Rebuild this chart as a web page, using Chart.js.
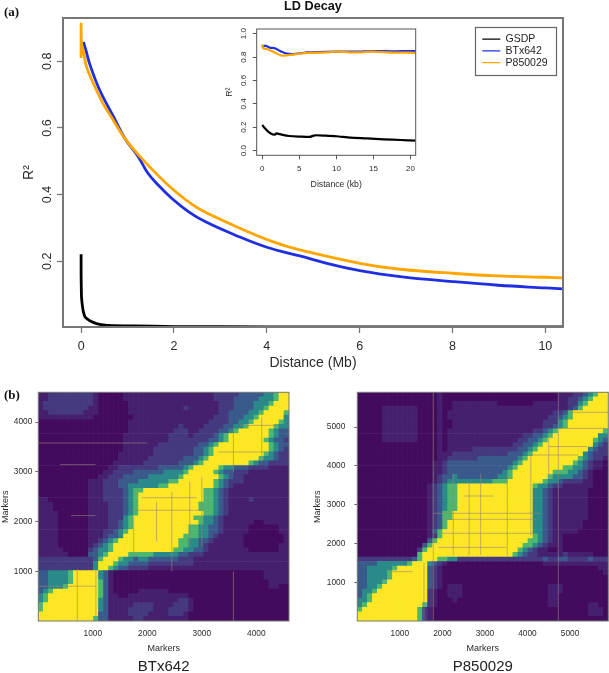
<!DOCTYPE html>
<html>
<head>
<meta charset="utf-8">
<title>LD Decay</title>
<script src="https://cdn.jsdelivr.net/npm/chart.js@4"></script>
<style>
html, body { margin: 0; background: #fff; }
#page { position: relative; width: 609px; height: 673px; overflow: hidden; font-family: "Liberation Sans", sans-serif; }
#page canvas { position: absolute; }
.panel { position: absolute; left: 4px; font: bold 13px "Liberation Serif", serif; color: #111; }
</style>
</head>
<body>
<div id="page">
    <canvas id="main-chart" width="609" height="375" style="left:0;top:0"></canvas>
    <canvas id="inset-chart" width="210" height="175" style="left:215px;top:20px"></canvas>
    <canvas id="btx-chart" width="305" height="291" style="left:0;top:385px"></canvas>
    <canvas id="p85-chart" width="304" height="291" style="left:305px;top:385px"></canvas>
    <div class="panel" style="top:4px">(a)</div>
    <div class="panel" style="top:387px">(b)</div>
</div>
<script>
// Main panel, distance in Mb
const gsdpMb = [0, 0, 0.005, 0.01, 0.03, 0.05, 0.08, 0.13, 0.22, 0.33, 0.47, 0.7, 1.12, 2, 4, 6, 8, 10.4];
const gsdpR2 = [0.221, 0.16, 0.114, 0.09, 0.064, 0.048, 0.034, 0.027, 0.019, 0.013, 0.009, 0.007, 0.006, 0.004, 0.003, 0.003, 0.003, 0.003];
const btxMb = [0.05, 0.1, 0.19, 0.4, 0.69, 0.94, 1.23, 1.44, 1.66, 1.95, 2.31, 2.67, 3.31, 4, 4.71, 5.43, 6, 6.87, 8, 8.98, 10, 10.4];
const btxR2 = [0.858, 0.835, 0.79, 0.714, 0.636, 0.569, 0.514, 0.464, 0.429, 0.389, 0.349, 0.319, 0.279, 0.242, 0.216, 0.189, 0.172, 0.154, 0.139, 0.128, 0.12, 0.117];
const p85Mb = [0, 0, 0.01, 0.05, 0.116, 0.26, 0.47, 0.655, 0.94, 1.37, 1.95, 2.52, 3.31, 4.14, 4.71, 6, 6.87, 8, 8.98, 10, 10.4];
const p85R2 = [0.81, 0.912, 0.85, 0.83, 0.784, 0.735, 0.674, 0.632, 0.569, 0.499, 0.419, 0.359, 0.306, 0.258, 0.234, 0.194, 0.176, 0.164, 0.156, 0.152, 0.15];
const mainXTicks = [0, 2, 4, 6, 8, 10];
const mainYTicks = [0.2, 0.4, 0.6, 0.8];

// Inset, distance in kb
const insetBtxKb = [0, 0.36, 1.03, 1.7, 2.4, 3.3, 4.2, 5.1, 6, 7.3, 10, 12.7, 15, 17.6, 19.9, 20.7];
const insetBtxR2 = [0.88, 0.897, 0.88, 0.875, 0.852, 0.83, 0.826, 0.832, 0.84, 0.843, 0.846, 0.846, 0.852, 0.849, 0.852, 0.851];
const insetP85Kb = [0, 0.1, 0.6, 1.26, 1.9, 2.6, 3.7, 5.1, 6.4, 8.7, 10, 12.7, 15, 17.6, 19.9, 20.7];
const insetP85R2 = [0.909, 0.875, 0.869, 0.852, 0.832, 0.812, 0.818, 0.829, 0.835, 0.84, 0.846, 0.84, 0.846, 0.838, 0.838, 0.836];
const insetGsdpKb = [0, 0.36, 0.8, 1.26, 1.7, 1.9, 2.6, 3.7, 5.1, 6.4, 7.1, 8.5, 10, 11.9, 14.1, 16.4, 18.7, 20.7];
const insetGsdpR2 = [0.219, 0.191, 0.162, 0.142, 0.137, 0.148, 0.137, 0.125, 0.12, 0.117, 0.131, 0.128, 0.123, 0.111, 0.105, 0.097, 0.091, 0.085];
const insetXTicks = [0, 5, 10, 15, 20];
const insetYTicks = [0, 0.2, 0.4, 0.6, 0.8, 1];

// LD matrices, top row first, one digit per cell (0 = low, 6 = high)
const btxMarkers = 4600;
const btxTicks = [1000, 2000, 3000, 4000];
const btxRows = [
    '1122222222 2100000111 1111111111 1111122222 3333344566',
    '1122222222 2100000111 1111111111 1111122223 3333444566',
    '1222222222 2100000011 1111111111 1111112223 3334445666',
    '1222222222 1100000011 1111111112 1111112223 3334456666',
    '1122222221 1100000011 1111111111 1111112233 3344566665',
    '1111111111 1000000001 1111111111 1111122233 3445666664',
    '0000000000 0000000011 1111111111 1111222233 4456666654',
    '0000000000 0000000011 1111111121 1112222334 4566666544',
    '0000000000 0000000011 1111111222 1122223345 6666665433',
    '0000000000 0000000111 1111112222 1222234566 6666665433',
    '0000000000 0000000111 1111112222 2222334566 6666654332',
    '0000000000 0000000111 1111222222 2233456666 6666665433',
    '0000000000 0000000111 1112222222 2334566666 6666665432',
    '0000000000 0000001111 1112222222 2334566666 6666654322',
    '0000000000 0000001111 1122222223 3345666666 6666544322',
    '0000000000 0000011111 1222222233 3456666666 6654332222',
    '0000000000 0000112222 2222333334 5666665443 3322221111',
    '0000000000 0001122223 3333344445 6666654332 2211111111',
    '0000000000 0011222333 3344444456 6666665432 2111111111',
    '0000000000 1112223333 4444445566 6666654322 2111111111',
    '0000000000 1112223344 4444556666 6666654321 1111111111',
    '0000000000 1112222345 5666666666 6665543211 1111111111',
    '0000000000 1112222345 6666666666 6665543211 1111111111',
    '1100000000 1112222345 6666666666 6665543211 1121111111',
    '1110000000 1111222345 6666666666 6655543211 1111111111',
    '1110000000 1111222345 6666666666 6655543211 1111111111',
    '1111000000 1111222345 6666666666 6665543211 1111111111',
    '1111000000 1111222456 6666666666 6554432111 1111111111',
    '1111000000 1111223456 6666666666 6654432111 1110011111',
    '1111000000 1111223456 6666666666 5544332111 1100000011',
    '1111000000 1112234566 6666666666 5544332111 1100000011',
    '1111000000 1112334666 6666666665 5544321111 1000000001',
    '1111000000 1123456666 6666666655 4433211111 1000000001',
    '1111000000 1234566666 6666666655 4432111111 1000000011',
    '1111100000 2344566666 6666666554 4332111111 1100000011',
    '1111110000 3345666655 5554444433 2221111111 1111111111',
    '2222222222 2356665443 4433333322 2111111111 1111111111',
    '2222222222 2466654433 3322222222 2111111111 1111111111',
    '2222222222 2466543322 2211111111 1111111111 1111111111',
    '3344445666 6643100000 0000000000 0000000000 0000011111',
    '3344445666 6643100000 0000000000 0000000000 0000011111',
    '3344445666 6653100000 0000000000 0000000000 0000001111',
    '3344456666 6653100000 0000000000 0000000000 0000001100',
    '3456666666 6653100000 1111110000 0000000000 0000000000',
    '4566666666 6653110011 1111111111 0000000000 0000000000',
    '4566666666 6643111111 1111111122 1000000000 0000000000',
    '5666666666 6643111112 2221111222 1000000000 0000000000',
    '5666666666 6643111122 2221112222 1000000000 0000000000',
    '6666666666 6633111122 2211112221 0000000000 0000000000',
    '6666666666 6533111112 2111111111 0000000000 0000000000'
];
const btxVLines = [[716, 0, 1050], [1057, 0, 1050], [3580, 0, 1000], [1750, 1300, 2100], [2170, 1600, 2400], [2450, 1000, 2600], [2780, 1500, 2800], [3000, 1500, 2900], [3580, 3000, 3900], [4100, 3200, 4100]];
const btxHLines = [[3580, 0, 2000], [3145, 400, 1050], [2120, 600, 1050], [2228, 1700, 3000], [2480, 1900, 2900], [700, 0, 1050], [3935, 3700, 4400], [3400, 3300, 4200]];

const p85Markers = 5900;
const p85Ticks = [1000, 2000, 3000, 4000, 5000];
const p85Rows = [
    '0000000000 0000001000 0000000000 0000000000 1112234566',
    '0000000000 0000001000 0000000000 0000000000 1122345666',
    '0000000000 0000001001 1111111100 0000011111 1122456666',
    '0000011111 1100001001 1111111111 1111111111 1123566666',
    '0000011111 1100001011 1111111111 1111111112 2356666666',
    '0000011111 1100001011 1111111111 1111111122 3456666666',
    '0000011111 1100001001 1111111111 1111111222 4566666666',
    '0000011111 1100001001 1111111111 1111111223 4566666666',
    '0000011111 1100001011 1111111111 1111122345 6666666665',
    '0000011111 1100001011 1111111111 1112233456 6666666644',
    '0000011111 1100001011 1111111111 1122334566 6666666543',
    '0000000000 0000001011 1111111111 1223345666 6666666432',
    '0000000000 0000001011 1112222222 2233456666 6666664322',
    '0000000000 0000001112 2222222222 3334566666 6666643222',
    '0000000000 0000001122 2222333333 3345666666 6666543221',
    '0000000000 0000011233 3333333333 3456666666 6665432110',
    '0000000000 0000011233 3333333333 4566666666 6554432110',
    '0000000000 0000011233 3333333334 5666666665 5544321000',
    '0000000000 0000012334 3333333344 5666666654 4443321000',
    '0000000000 0000012344 4444444555 6666666544 3222211000',
    '0000000000 0000123455 6666666666 6666654432 2111111000',
    '0000000000 0000123455 6666666666 6666644321 1111110000',
    '0000000000 0000123455 6666666666 6666644321 1111110000',
    '0000000000 0000123455 6666666666 6666644321 1111110000',
    '0000000000 0000123455 6666666666 6666644321 1111110000',
    '0000000000 0000123455 6666666666 6666644321 1111110000',
    '0000000000 0000123556 6666666666 6666644321 1111110000',
    '0000000000 0000123556 6666666666 6666644321 1111110000',
    '0000000000 0000123566 6666666666 6666644321 1111100000',
    '0000000000 0000123566 6666666666 6666644321 1111100000',
    '0000000000 0000135666 6666666666 6666644321 1111000000',
    '0000000000 0000125666 6666666666 6666654321 1000000000',
    '0000000000 0000356666 6666666666 6666554321 1000000000',
    '0000000000 0003566666 6666666666 6665543211 1000000000',
    '0000000000 0025666666 6666666666 6654321100 1000000000',
    '0000000000 0056666666 6666666666 6543221111 1211111000',
    '2222222222 2356665544 2222222222 2222222322 3322223222',
    '3333444444 5666432100 0000000000 0000000111 1111111111',
    '3344444566 6666321000 0000000000 0000000000 0000000011',
    '3344445666 6666321000 0000000000 0000000000 0000000001',
    '3344445666 6666321000 0000000000 0000000000 0000000000',
    '3344456666 6666321000 0000000000 0000000000 0000000000',
    '3344566666 6666321011 1000000000 0000000011 1000000000',
    '3445666666 6666210011 1000000000 0000000011 1000000000',
    '3456666666 6666210011 1000000000 0000000011 0000000000',
    '4456666666 6666210001 0000000000 0000000011 0000000000',
    '4566666666 6665210000 0000000000 0000000011 0000001100',
    '5666666666 6652100000 0000000000 0000000000 0000001110',
    '6666666666 6652100000 0000000000 0000000000 0000001110',
    '6666666666 6652100000 0000000000 0000000000 0000000000'
];
const p85VLines = [[1786, 0, 5900], [4725, 0, 5900], [1567, 0, 1500], [2256, 1700, 3800], [2630, 1700, 3600], [2900, 1700, 3800], [3525, 1700, 3800], [4080, 2200, 4300], [4500, 3700, 4800]];
const p85HLines = [[2778, 1800, 4300], [2623, 2000, 4200], [2262, 2000, 4200], [1900, 1900, 3500], [3225, 2500, 3200], [5384, 5000, 5900], [4970, 4700, 5900], [4500, 4500, 5400], [4283, 4100, 5200], [1272, 800, 1300]];

const heatColors = ['#430b5e', '#46206f', '#45397f', '#3a5a8c', '#2a8a8a', '#4db66f', '#fde725'];
const streakColor = 'rgba(150,135,120,0.6)';
const axisGray = '#777777';
const textColor = '#2b2b2b';

function toPoints(xs, ys) {
    return xs.map((x, i) => ({ x: x, y: ys[i] }));
}

// Fixed tick positions, like R's axis()
function fixedTicks(values) {
    return scale => { scale.ticks = values.map(v => ({ value: v })); };
}

// Axis box of a fixed size, so the plot lands where it should
function fixedBox(size) {
    return scale => {
        if (scale.isHorizontal()) {
            scale.height = size;
        } else {
            scale.width = size;
        }
        scale.paddingTop = scale.paddingBottom = scale.paddingLeft = scale.paddingRight = 0;
    };
}

function framePlugin(color, width) {
    return {
        id: 'frame',
        afterDatasetsDraw(chart) {
            const a = chart.chartArea;
            const ctx = chart.ctx;
            ctx.save();
            ctx.strokeStyle = color;
            ctx.lineWidth = width;
            ctx.strokeRect(a.left, a.top, a.right - a.left, a.bottom - a.top);
            ctx.restore();
        }
    };
}

// The legend sits in the top right of the plot, with a box round it
const legendBox = {
    id: 'legendBox',
    afterLayout(chart) {
        const legend = chart.legend;
        legend.left = 481;
        legend.right = 557;
        legend.top = 32.5;
        legend.bottom = 76;
    },
    afterDraw(chart) {
        const ctx = chart.ctx;
        ctx.save();
        ctx.strokeStyle = '#666666';
        ctx.lineWidth = 1.2;
        ctx.strokeRect(475.5, 27.5, 81, 48);
        ctx.restore();
    }
};

new Chart(document.getElementById('main-chart'), {
    type: 'scatter',
    data: {
        datasets: [
            { label: 'GSDP', data: toPoints(gsdpMb, gsdpR2), borderColor: '#000000', backgroundColor: '#000000', order: 3 },
            { label: 'BTx642', data: toPoints(btxMb, btxR2), borderColor: '#1f2fe0', backgroundColor: '#1f2fe0', tension: 0.4, order: 2 },
            { label: 'P850029', data: toPoints(p85Mb, p85R2), borderColor: '#ffa500', backgroundColor: '#ffa500', tension: 0.3, order: 1 }
        ]
    },
    options: {
        responsive: false,
        animation: false,
        showLine: true,
        layout: { padding: { right: 46 } },
        elements: { point: { radius: 0 }, line: { borderWidth: 2.8, tension: 0.2 } },
        plugins: {
            tooltip: { enabled: false },
            title: {
                display: true,
                text: 'LD Decay',
                fullSize: false,
                color: '#111',
                font: { family: 'Liberation Sans', size: 12.7, weight: 'bold', lineHeight: 1 },
                padding: { top: 0, bottom: 5.3 }
            },
            legend: {
                position: 'chartArea',
                align: 'start',
                labels: {
                    usePointStyle: true,
                    pointStyle: 'line',
                    pointStyleWidth: 18,
                    padding: 1.3,
                    color: '#222',
                    font: { family: 'Liberation Sans', size: 10.5, lineHeight: 1 },
                    sort: (a, b) => a.datasetIndex - b.datasetIndex,
                    generateLabels: chart => Chart.defaults.plugins.legend.labels.generateLabels(chart).map(item => ({ ...item, lineWidth: 1.3 }))
                }
            }
        },
        scales: {
            x: {
                type: 'linear',
                min: -0.39,
                max: 10.38,
                afterBuildTicks: fixedTicks(mainXTicks),
                afterFit: fixedBox(48),
                border: { display: false },
                grid: { drawOnChartArea: false, tickLength: 6, tickColor: axisGray, tickWidth: 1.3 },
                ticks: { color: textColor, autoSkip: false, maxRotation: 0, padding: 5.6, font: { family: 'Liberation Sans', size: 12.5 } },
                title: { display: true, text: 'Distance (Mb)', color: textColor, font: { family: 'Liberation Sans', size: 14 }, padding: { top: 0, bottom: 3.6 } }
            },
            y: {
                min: 0.0027,
                max: 0.93,
                afterBuildTicks: fixedTicks(mainYTicks),
                afterFit: fixedBox(63),
                border: { display: false },
                grid: { drawOnChartArea: false, tickLength: 6, tickColor: axisGray, tickWidth: 1.3 },
                ticks: {
                    color: textColor,
                    autoSkip: false,
                    minRotation: 90,
                    maxRotation: 90,
                    crossAlign: 'center',
                    padding: 0.6,
                    font: { family: 'Liberation Sans', size: 12.5 },
                    callback: v => v.toFixed(1)
                },
                title: { display: true, text: 'R²', color: textColor, font: { family: 'Liberation Sans', size: 14 }, padding: { top: 21, bottom: 0 } }
            }
        }
    },
    plugins: [framePlugin(axisGray, 2), legendBox]
});

new Chart(document.getElementById('inset-chart'), {
    type: 'scatter',
    data: {
        datasets: [
            { label: 'GSDP', data: toPoints(insetGsdpKb, insetGsdpR2), borderColor: '#000000', order: 3 },
            { label: 'BTx642', data: toPoints(insetBtxKb, insetBtxR2), borderColor: '#1f2fe0', order: 2 },
            { label: 'P850029', data: toPoints(insetP85Kb, insetP85R2), borderColor: '#ffa500', order: 1 }
        ]
    },
    options: {
        responsive: false,
        animation: false,
        showLine: true,
        layout: { padding: { top: 9, right: 9.3 } },
        elements: { point: { radius: 0 }, line: { borderWidth: 2.2, tension: 0.2 } },
        plugins: { legend: { display: false }, tooltip: { enabled: false } },
        scales: {
            x: {
                type: 'linear',
                min: -0.75,
                max: 20.7,
                afterBuildTicks: fixedTicks(insetXTicks),
                afterFit: fixedBox(39.7),
                border: { display: false },
                grid: { drawOnChartArea: false, tickLength: 4, tickColor: '#555' },
                ticks: { color: textColor, autoSkip: false, maxRotation: 0, padding: 5, font: { family: 'Liberation Sans', size: 8 } },
                title: { display: true, text: 'Distance (kb)', color: textColor, font: { family: 'Liberation Sans', size: 8.7 }, padding: { top: 0, bottom: 5 } }
            },
            y: {
                min: -0.04,
                max: 1.04,
                afterBuildTicks: fixedTicks(insetYTicks),
                afterFit: fixedBox(41.7),
                border: { display: false },
                grid: { drawOnChartArea: false, tickLength: 4, tickColor: '#555' },
                ticks: {
                    color: textColor,
                    autoSkip: false,
                    minRotation: 90,
                    maxRotation: 90,
                    crossAlign: 'center',
                    padding: 3,
                    font: { family: 'Liberation Sans', size: 8 },
                    callback: v => v.toFixed(1)
                },
                title: { display: true, text: 'R²', color: textColor, font: { family: 'Liberation Sans', size: 8.7 }, padding: { top: 9, bottom: 0 } }
            }
        }
    },
    plugins: [framePlugin('#555555', 1)]
});

// One floating bar per matrix cell, then the grey streaks on top
function buildHeatDatasets(rows, markers, vLines, hLines) {
    const step = markers / rows.length;
    const cells = [];
    const colors = [];
    rows.forEach((row, r) => {
        row.replace(/ /g, '').split('').forEach((level, c) => {
            const top = markers - r * step;
            cells.push({ x: (c + 0.5) * step, y: [top - step, top] });
            colors.push(heatColors[+level]);
        });
    });
    const streaks = [];
    vLines.forEach(l => streaks.push({ type: 'line', data: [{ x: l[0], y: l[1] }, { x: l[0], y: l[2] }], borderColor: streakColor, borderWidth: 1, pointRadius: 0, order: 1 }));
    hLines.forEach(l => streaks.push({ type: 'line', data: [{ x: l[1], y: l[0] }, { x: l[2], y: l[0] }], borderColor: streakColor, borderWidth: 1, pointRadius: 0, order: 1 }));
    return [{ label: 'LD', data: cells, backgroundColor: colors, barPercentage: 1, categoryPercentage: 1, order: 2 }].concat(streaks);
}

function heatChart(canvasId, caption, rows, markers, ticks, vLines, hLines, axisWidth, rightPad, tickPad, titlePad) {
    return new Chart(document.getElementById(canvasId), {
        type: 'bar',
        data: { datasets: buildHeatDatasets(rows, markers, vLines, hLines) },
        options: {
            responsive: false,
            animation: false,
            layout: { padding: { top: 7.3, right: rightPad } },
            plugins: {
                legend: { display: false },
                tooltip: { enabled: false },
                title: {
                    display: true,
                    position: 'bottom',
                    text: caption,
                    fullSize: false,
                    color: '#222',
                    font: { family: 'Liberation Sans', size: 15, weight: 'normal', lineHeight: 1.2 },
                    padding: 0
                }
            },
            scales: {
                x: {
                    type: 'linear',
                    offset: false,
                    min: 0,
                    max: markers,
                    afterBuildTicks: fixedTicks(ticks),
                    afterFit: fixedBox(37),
                    border: { display: false },
                    grid: { offset: false, display: false },
                    ticks: { color: textColor, autoSkip: false, maxRotation: 0, padding: 0, font: { family: 'Liberation Sans', size: 8.3 }, callback: v => String(v) },
                    title: { display: true, text: 'Markers', color: textColor, font: { family: 'Liberation Sans', size: 9 }, padding: { top: 0, bottom: 4 } }
                },
                y: {
                    min: 0,
                    max: markers,
                    afterBuildTicks: fixedTicks(ticks),
                    afterFit: fixedBox(axisWidth),
                    border: { display: false },
                    grid: { drawOnChartArea: false, tickLength: 3, tickColor: '#666' },
                    ticks: { color: textColor, autoSkip: false, padding: tickPad, font: { family: 'Liberation Sans', size: 8.3 }, callback: v => String(v) },
                    title: { display: true, text: 'Markers', color: textColor, font: { family: 'Liberation Sans', size: 9 }, padding: { top: titlePad, bottom: 0 } }
                }
            }
        },
        plugins: [framePlugin('#777777', 1)]
    });
}

heatChart('btx-chart', 'BTx642', btxRows, btxMarkers, btxTicks, btxVLines, btxHLines, 38.3, 16, 3, 0);
heatChart('p85-chart', 'P850029', p85Rows, p85Markers, p85Ticks, p85VLines, p85HLines, 52.3, 0.7, 9, 7);
</script>
</body>
</html>
